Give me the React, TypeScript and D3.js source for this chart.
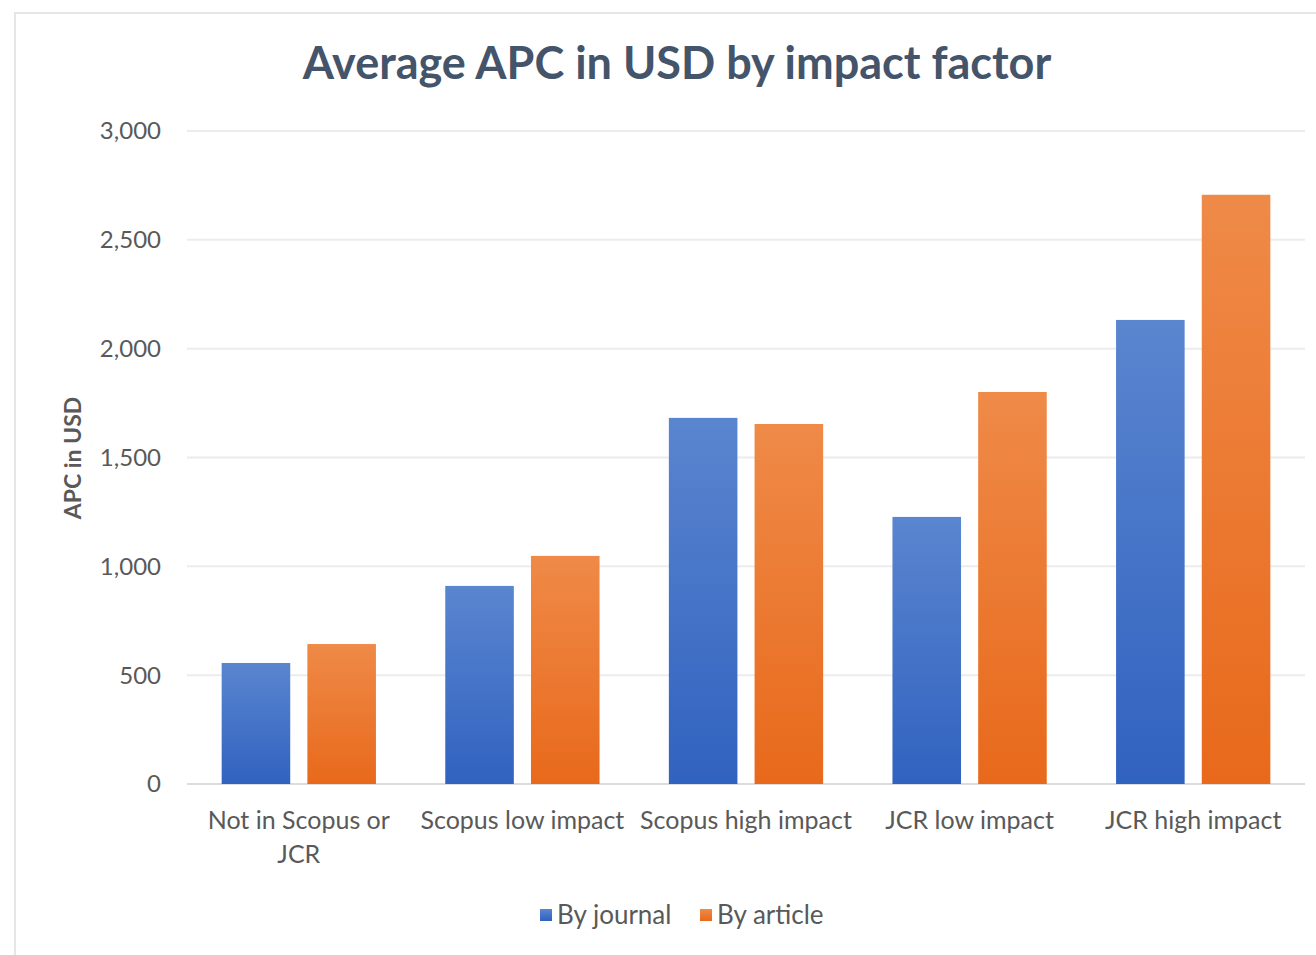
import { useEffect, useRef } from "react";
import * as d3 from "d3";

const categories = [
  ["Not in Scopus or", "JCR"],
  ["Scopus low impact"],
  ["Scopus high impact"],
  ["JCR low impact"],
  ["JCR high impact"],
];
const byJournal = [556, 910, 1682, 1227, 2132];
const byArticle = [643, 1048, 1654, 1801, 2707];
const yTicks = [0, 500, 1000, 1500, 2000, 2500, 3000];
const seriesNames = ["By journal", "By article"];

export default function App() {
  const svgRef = useRef<SVGSVGElement | null>(null);

  useEffect(() => {
    if (!svgRef.current) return;
    const svg = d3.select(svgRef.current);
    svg.selectAll("*").remove();

    const width = 1316;
    const height = 955;
    const plot = { left: 187, right: 1305, top: 131, bottom: 784 };
    const font = "Lato, 'Open Sans', sans-serif";
    const textColor = "#595959";

    svg.attr("viewBox", `0 0 ${width} ${height}`);

    const defs = svg.append("defs");
    const gradients = [
      { id: "g-blue", top: "#5a85cf", bottom: "#3062bf" },
      { id: "g-orange", top: "#ef8a48", bottom: "#e8691b" },
    ];
    gradients.forEach((g) => {
      const lg = defs
        .append("linearGradient")
        .attr("id", g.id)
        .attr("x1", "0%")
        .attr("y1", "0%")
        .attr("x2", "0%")
        .attr("y2", "100%");
      lg.append("stop").attr("offset", "0%").attr("stop-color", g.top);
      lg.append("stop").attr("offset", "100%").attr("stop-color", g.bottom);
    });

    svg
      .append("rect")
      .attr("width", width)
      .attr("height", height)
      .attr("fill", "#ffffff");

    // chart frame
    svg
      .append("path")
      .attr("d", `M15,${height} V13 H${width}`)
      .attr("fill", "none")
      .attr("stroke", "#e6e6e6")
      .attr("stroke-width", 2);

    const x0 = d3
      .scaleBand<number>()
      .domain(d3.range(categories.length))
      .range([plot.left, plot.right])
      .paddingInner(0.31)
      .paddingOuter(0.155);
    const x1 = d3
      .scaleBand<number>()
      .domain([0, 1])
      .range([0, x0.bandwidth()])
      .paddingInner(0.2);
    const y = d3
      .scaleLinear()
      .domain([0, 3000])
      .range([plot.bottom, plot.top]);

    // gridlines
    svg
      .append("g")
      .selectAll("line")
      .data(yTicks)
      .join("line")
      .attr("x1", plot.left)
      .attr("x2", plot.right)
      .attr("y1", (d) => y(d))
      .attr("y2", (d) => y(d))
      .attr("stroke", (d) => (d === 0 ? "#dcdcdc" : "#ececec"))
      .attr("stroke-width", 2);

    // y tick labels
    svg
      .append("g")
      .selectAll("text")
      .data(yTicks)
      .join("text")
      .attr("x", 161)
      .attr("y", (d) => y(d))
      .attr("dy", "0.35em")
      .attr("text-anchor", "end")
      .attr("font-family", font)
      .attr("font-size", 24)
      .attr("fill", textColor)
      .text((d) => d3.format(",")(d));

    // bars
    const groups = svg
      .append("g")
      .selectAll("g")
      .data(d3.range(categories.length))
      .join("g")
      .attr("transform", (i) => `translate(${x0(i)},0)`);

    groups
      .selectAll("rect")
      .data((i) => [byJournal[i], byArticle[i]])
      .join("rect")
      .attr("x", (_, j) => x1(j)!)
      .attr("y", (d) => y(d))
      .attr("width", x1.bandwidth())
      .attr("height", (d) => y(0) - y(d))
      .attr("fill", (_, j) => `url(#${gradients[j].id})`);

    // x labels
    const xLabels = svg
      .append("g")
      .selectAll("text")
      .data(categories)
      .join("text")
      .attr("x", (_, i) => x0(i)! + x0.bandwidth() / 2)
      .attr("y", 829)
      .attr("text-anchor", "middle")
      .attr("font-family", font)
      .attr("font-size", 25)
      .attr("fill", textColor);
    xLabels
      .selectAll("tspan")
      .data((d) => d)
      .join("tspan")
      .attr("x", function () {
        return (this.parentNode as SVGTextElement).getAttribute("x");
      })
      .attr("dy", (_, k) => (k === 0 ? 0 : 34))
      .text((d) => d);

    // y axis title
    svg
      .append("text")
      .attr("transform", `translate(81,458) rotate(-90)`)
      .attr("text-anchor", "middle")
      .attr("font-family", font)
      .attr("font-size", 23)
      .attr("font-weight", 700)
      .attr("fill", textColor)
      .text("APC in USD");

    // title
    svg
      .append("text")
      .attr("x", 677)
      .attr("y", 79)
      .attr("text-anchor", "middle")
      .attr("font-family", font)
      .attr("font-size", 45)
      .attr("font-weight", 700)
      .attr("fill", "#44546a")
      .text("Average APC in USD by impact factor");

    // legend
    const legendItems = [
      { x: 540, color: gradients[0] },
      { x: 700, color: gradients[1] },
    ];
    const legend = svg
      .append("g")
      .selectAll("g")
      .data(legendItems)
      .join("g")
      .attr("transform", (d) => `translate(${d.x},915)`);
    legend
      .append("rect")
      .attr("x", 0)
      .attr("y", -6)
      .attr("width", 12)
      .attr("height", 12)
      .attr("fill", (d) => `url(#${d.color.id})`);
    legend
      .append("text")
      .attr("x", 17)
      .attr("dy", "0.35em")
      .attr("font-family", font)
      .attr("font-size", 26)
      .attr("fill", textColor)
      .text((_, i) => seriesNames[i]);
  }, []);

  return (
    <svg
      ref={svgRef}
      width={1316}
      height={955}
      style={{ position: "fixed", left: 0, top: 0 }}
    />
  );
}
